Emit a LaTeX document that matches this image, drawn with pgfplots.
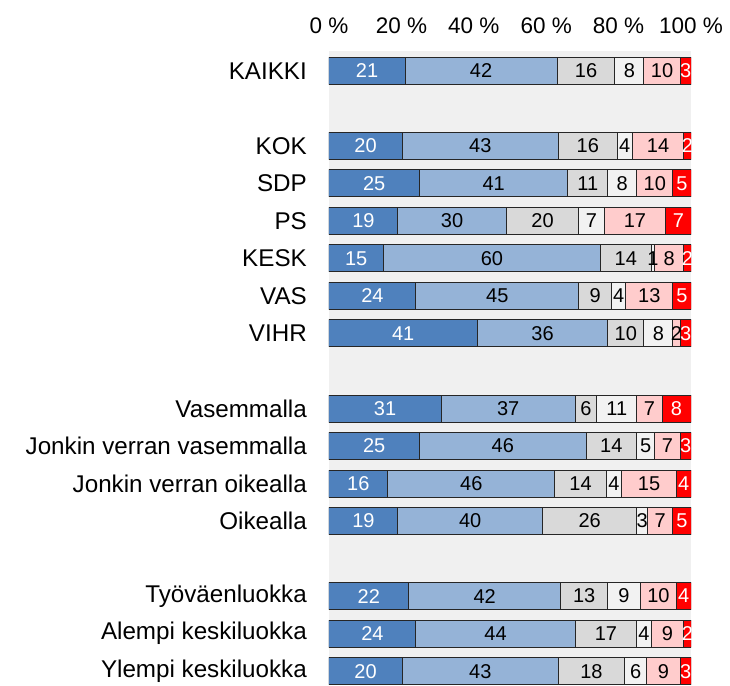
\documentclass[border=0pt]{standalone}
\usepackage{pgfplots}
\pgfplotsset{compat=1.18}
\usepackage{pgfplotstable}
\usepackage{fontspec}
\setmainfont{Liberation Sans}

\definecolor{c1}{HTML}{4F81BD}
\definecolor{c2}{HTML}{95B3D7}
\definecolor{c3}{HTML}{D9D9D9}
\definecolor{c4}{HTML}{F2F2F2}
\definecolor{c5}{HTML}{FFCCCC}
\definecolor{c6}{HTML}{FF0000}
\definecolor{bg}{HTML}{F0F0F0}

% rows: y position (0 at top), six answer shares in %
\pgfplotstableread{
y  a    b    c    d    e    f
0  21   42   16   8    10   3
2  20.2 43.2 16.2 4.2  14.2 2
3  25   41   11   8    10   5
4  19   30   20   7    17   7
5  15   60   14   1    8    2
6  24   45   9    4    13   5
7  41   36   10   8    2    3
9  31   37   6    11   7    8
10 25   46   14   5    7    3
11 16.2 46.2 14.2 4.2  15.2 4
12 19   40   26   3    7    5
14 22   42   13   9    10   4
15 24   44   17   4    9    2
16 20.2 43.2 18.2 6.2  9.2  3
}\data

\begin{document}
\begin{tikzpicture}
\path[use as bounding box] (-329pt,0pt) rectangle (401pt,685pt);
\begin{axis}[
  at={(0,0)}, anchor=south west,
  scale only axis,
  width=362pt, height=634pt,
  xbar stacked,
  bar width=27pt,
  xmin=0, xmax=100,
  ymin=-0.53, ymax=16.37,
  y dir=reverse,
  axis background/.style={fill=bg},
  axis line style={draw=none},
  major tick length=0pt,
  xtick={0,20,40,60,80,100},
  xticklabels={0 \%,20 \%,40 \%,60 \%,80 \%,100 \%},
  xticklabel pos=top,
  xticklabel style={font=\fontsize{22.5}{26}\selectfont, yshift=14pt},
  ytick={0,2,3,4,5,6,7,9,10,11,12,14,15,16},
  yticklabels={KAIKKI,KOK,SDP,PS,KESK,VAS,VIHR,Vasemmalla,Jonkin verran vasemmalla,Jonkin verran oikealla,Oikealla,Työväenluokka,Alempi keskiluokka,Ylempi keskiluokka},
  yticklabel style={font=\fontsize{24.2}{28}\selectfont, inner sep=0pt, xshift=-22pt},
  every axis plot/.append style={draw=black!85, line width=1pt},
  point meta=explicit,
  nodes near coords={\pgfmathprintnumber[fixed,precision=0,assume math mode=true]{\pgfplotspointmeta}},
  every node near coord/.append style={font=\fontsize{20}{23}\selectfont, anchor=center, inner sep=0pt},
]
\addplot[fill=c1, every node near coord/.append style={text=white}] table[x=a, y=y, meta=a] {\data};
\addplot[fill=c2, every node near coord/.append style={text=black}] table[x=b, y=y, meta=b] {\data};
\addplot[fill=c3, every node near coord/.append style={text=black}] table[x=c, y=y, meta=c] {\data};
\addplot[fill=c4, every node near coord/.append style={text=black}] table[x=d, y=y, meta=d] {\data};
\addplot[fill=c5, every node near coord/.append style={text=black}] table[x=e, y=y, meta=e] {\data};
\addplot[fill=c6, every node near coord/.append style={text=white}] table[x=f, y=y, meta=f] {\data};
\end{axis}
\end{tikzpicture}
\end{document}
